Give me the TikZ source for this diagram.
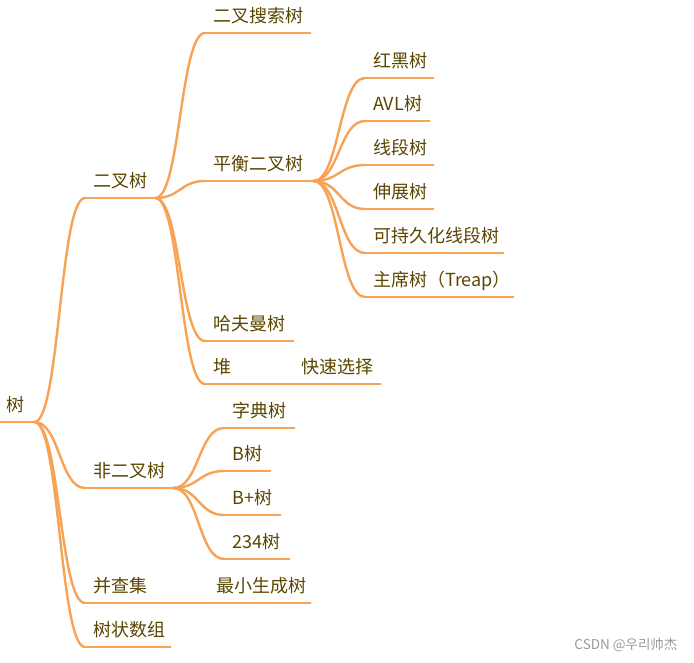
\documentclass[tikz,border=0pt]{standalone}
\usepackage{fontspec}
\setmainfont{Noto Sans CJK SC}
\usepackage{tikz}
\usetikzlibrary{calc}
\definecolor{linecol}{HTML}{F7A255}
\definecolor{inkbrown}{HTML}{5A4600}
\definecolor{markgray}{HTML}{9A9A9A}

\begin{document}
\begin{tikzpicture}[x=1pt,y=-1pt,every node/.style={font=\fontsize{18}{21}\selectfont,text=inkbrown},topic/.style={anchor=south west,inner xsep=8pt,inner ysep=0pt,text width=#1,align=left,text height=14pt,text depth=10.5pt},link/.style={draw=linecol,line width=2.4pt,line cap=round}]
\useasboundingbox (0,0) rectangle (694,662);
% root and first level
\node[topic=20pt] (root) at (-2,422) {树};
\node[topic=54pt] (bin) at (85,198) {二叉树};
\node[topic=72pt] (nonbin) at (85,488) {非二叉树};
\node[topic=52pt] (uf) at (85,603) {并查集};
\node[topic=69pt] (bit) at (85,647) {树状数组};
% binary trees
\node[topic=89pt] (bst) at (205,33) {二叉搜索树};
\node[topic=92pt] (bal) at (205,181) {平衡二叉树};
\node[topic=72pt] (huff) at (205,341) {哈夫曼树};
\node[topic=22pt] (heap) at (205,384) {堆};
\node[topic=71pt] (qsel) at (293,384) {快速选择};
\node[topic=86pt] (mst) at (208,603) {最小生成树};
% balanced trees
\node[topic=52pt] (rb) at (365,78) {红黑树};
\node[topic=48pt] (avl) at (365,121) {AVL树};
\node[topic=52pt] (seg) at (365,165) {线段树};
\node[topic=52pt] (splay) at (365,209) {伸展树};
\node[topic=122pt] (pseg) at (365,253) {可持久化线段树};
\node[topic=132pt] (chair) at (365,297) {主席树（Treap）};
% non-binary trees
\node[topic=54pt] (trie) at (224,428) {字典树};
\node[topic=30pt] (btree) at (224,471) {B树};
\node[topic=40pt] (bplus) at (224,515) {B+树};
\node[topic=49pt] (t234) at (224,559) {234树};
\node[font=\fontsize{13.5}{15}\selectfont,text=markgray,anchor=east] (wm) at (681,645) {CSDN @우리帅杰};
% underlines
\foreach \n in {root,bin,nonbin,uf,bit,bst,bal,huff,heap,qsel,mst,rb,avl,seg,splay,pseg,chair,trie,btree,bplus,t234}
  \draw[link] (\n.south west) -- (\n.south east);
% branches
\foreach \a/\b in {root/bin,root/nonbin,root/uf,root/bit,bin/bst,bin/bal,bin/huff,bin/heap,heap/qsel,uf/mst,bal/rb,bal/avl,bal/seg,bal/splay,bal/pseg,bal/chair,nonbin/trie,nonbin/btree,nonbin/bplus,nonbin/t234}
  \draw[link] let \p1=(\a.south east),\p2=(\b.south west) in (\p1) .. controls ({(\x1+\x2)/2},\y1) and ({(\x1+\x2)/2},\y2) .. (\p2);
\end{tikzpicture}
\end{document}
